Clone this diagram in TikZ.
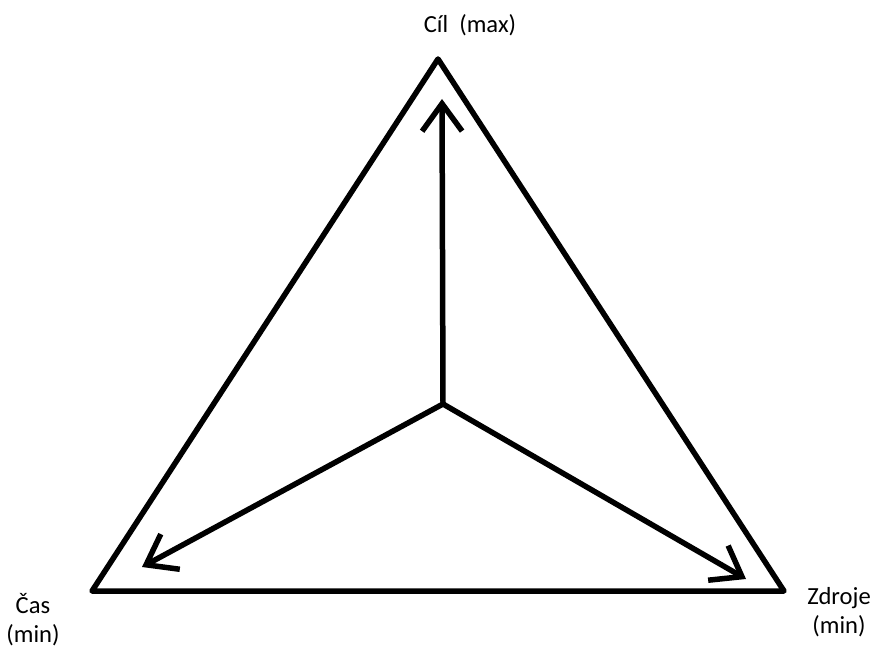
\documentclass[tikz,border=0pt]{standalone}
\usepackage{fontspec}
\setmainfont{Carlito}
\usetikzlibrary{arrows.meta}
\begin{document}
\begin{tikzpicture}[x=0.02cm,y=-0.02cm,line width=0.11cm,line join=round,line cap=round,
    every node/.style={font=\fontsize{14}{16.5}\selectfont,inner sep=0pt},
    axis/.style={-{Straight Barb[length=5.5mm,width=8mm]}}]
  \useasboundingbox (0,0) rectangle (875,648);
  \coordinate (apex) at (438,59);
  \coordinate (lcorner) at (92,591);
  \coordinate (rcorner) at (784,591);
  \draw (apex) -- (lcorner) -- (rcorner) -- cycle;
  \coordinate (o) at (443,404);
  \coordinate (goal) at (442,99);
  \coordinate (time) at (142,567);
  \coordinate (res) at (746,579);
  \draw[axis] (o) -- (goal);
  \draw[axis] (o) -- (time);
  \draw[axis] (o) -- (res);
  \node (cil) at (470,25) {Cíl\ \ (max)};
  \node[align=center] (cas) at (33,620) {Čas\\(min)};
  \node[align=center] (zdroje) at (839,612) {Zdroje\\(min)};
\end{tikzpicture}
\end{document}
